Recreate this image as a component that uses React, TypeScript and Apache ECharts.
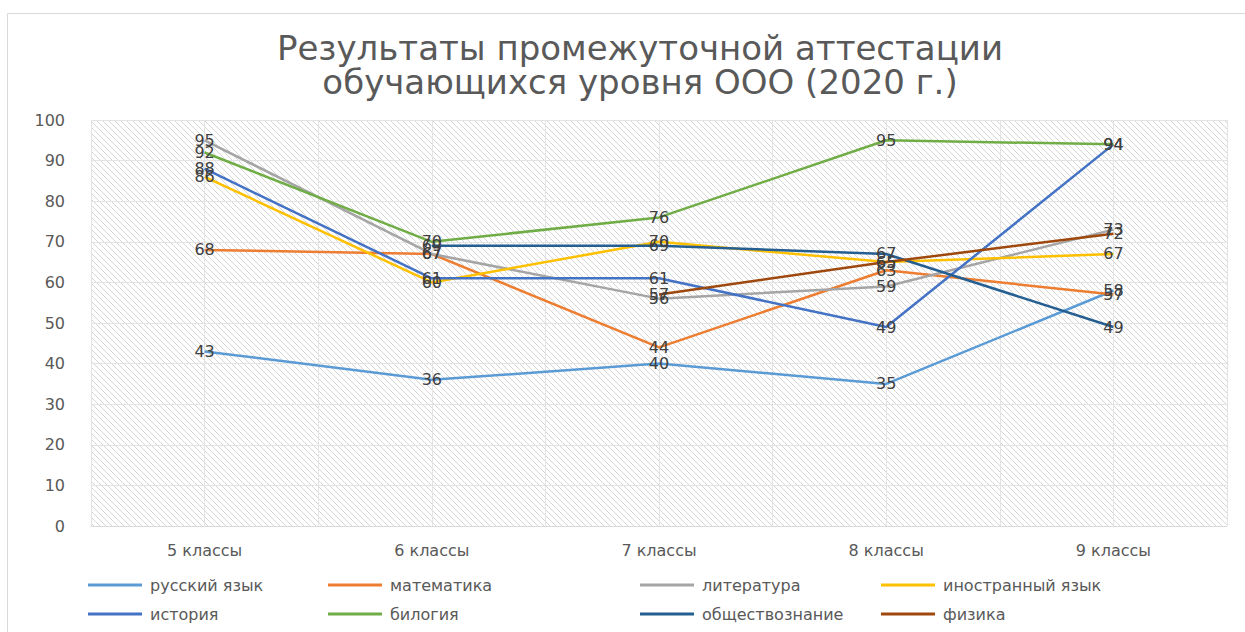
import React, { useEffect, useRef } from "react";
import * as echarts from "echarts";

const categories = ["5 классы", "6 классы", "7 классы", "8 классы", "9 классы"];
const russian = [43, 36, 40, 35, 58];
const math = [68, 67, 44, 63, 57];
const literature = [95, 67, 56, 59, 73];
const foreign = [86, 60, 70, 65, 67];
const history = [88, 61, 61, 49, 94];
const biology = [92, 70, 76, 95, 94];
const social = [null, 69, 69, 67, 49];
const physics = [null, null, 57, 65, 72];

const seriesNames = [
  "русский язык",
  "математика",
  "литература",
  "иностранный язык",
  "история",
  "билогия",
  "обществознание",
  "физика",
];
const seriesData = [russian, math, literature, foreign, history, biology, social, physics];
const colors = ["#5B9BD5", "#ED7D31", "#A5A5A5", "#FFC000", "#4472C4", "#70AD47", "#255E91", "#9E480E"];

function makeHatch(): string {
  const c = document.createElement("canvas");
  const s = 6;
  c.width = s;
  c.height = s;
  const ctx = c.getContext("2d")!;
  ctx.fillStyle = "#ffffff";
  ctx.fillRect(0, 0, s, s);
  ctx.strokeStyle = "#d6d6d6";
  ctx.lineWidth = 1;
  ctx.beginPath();
  for (let k = -s; k <= s; k += s) {
    ctx.moveTo(k, 0);
    ctx.lineTo(k + s, s);
  }
  ctx.stroke();
  return c.toDataURL();
}

export default function App() {
  const ref = useRef<HTMLDivElement>(null);
  useEffect(() => {
    document.body.style.margin = "0";
    const chart = echarts.init(ref.current!, undefined, { renderer: "svg" });
    const font = "DejaVu Sans";
    const hatch = makeHatch();
    const legendCols = [
      { left: 88, items: [0, 4] },
      { left: 328, items: [1, 5] },
      { left: 640, items: [2, 6] },
      { left: 881, items: [3, 7] },
    ];
    chart.setOption({
      animation: false,
      color: colors,
      title: {
        text: "Результаты промежуточной аттестации\nобучающихся уровня ООО (2020 г.)",
        left: 635,
        textAlign: "center",
        top: 26,
        textStyle: {
          fontFamily: font,
          fontSize: 34,
          fontWeight: "normal",
          color: "#595959",
          lineHeight: 34,
        },
      },
      graphic: [
        {
          type: "rect",
          shape: { x: 7.5, y: 13.5, width: 1260, height: 640 },
          style: { fill: "none", stroke: "#d9d9d9", lineWidth: 1 },
          silent: true,
        },
      ],
      legend: legendCols.map((col) => ({
        orient: "vertical",
        left: col.left,
        top: 577,
        padding: 0,
        itemGap: 13,
        itemWidth: 54,
        itemHeight: 3,
        icon: "rect",
        data: col.items.map((i) => seriesNames[i]),
        textStyle: { fontFamily: font, fontSize: 16, color: "#595959", padding: [0, 0, 0, 3] },
      })),
      grid: {
        left: 91,
        right: 18,
        top: 120,
        bottom: 106,
        show: true,
        backgroundColor: { image: hatch, repeat: "repeat" },
        borderWidth: 0,
      },
      xAxis: [
        {
          type: "category",
          data: categories,
          boundaryGap: true,
          axisLine: { show: true, lineStyle: { color: "#d9d9d9", width: 1 } },
          axisTick: { show: false },
          axisLabel: { fontFamily: font, fontSize: 16, color: "#595959", margin: 16 },
          splitLine: { show: false },
        },
        {
          type: "value",
          min: 0,
          max: 10,
          interval: 1,
          show: true,
          position: "top",
          axisLine: { show: false },
          axisTick: { show: false },
          axisLabel: { show: false },
          splitLine: { show: true, lineStyle: { color: "#e3e3e3", width: 1 } },
        },
      ],
      yAxis: {
        type: "value",
        min: 0,
        max: 100,
        interval: 10,
        axisLine: { show: false },
        axisTick: { show: false },
        axisLabel: { fontFamily: font, fontSize: 16, color: "#595959", margin: 26 },
        splitLine: { show: true, lineStyle: { color: "#e3e3e3", width: 1 } },
      },
      series: seriesNames.map((name, i) => ({
        name,
        type: "line",
        xAxisIndex: 0,
        data: seriesData[i],
        symbol: "circle",
        symbolSize: 0.1,
        showSymbol: true,
        lineStyle: { width: 2.5, color: colors[i] },
        itemStyle: { color: colors[i] },
        labelLayout: { hideOverlap: false },
        label: {
          show: true,
          position: "inside",
          fontFamily: font,
          fontSize: 16,
          color: "#404040",
        },
      })),
    });
    return () => chart.dispose();
  }, []);
  return <div ref={ref} style={{ position: "absolute", left: 0, top: 0, width: 1245, height: 632 }} />;
}
